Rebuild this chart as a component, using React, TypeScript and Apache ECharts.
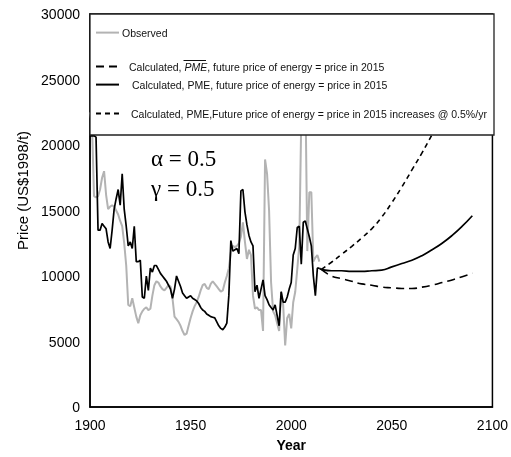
import React, { useEffect, useRef } from 'react';
import * as echarts from 'echarts';

const HIST_START = 1900;

// Observed price, 1900..2014
const observed = [
  22500, 21500, 16100, 16000, 16100, 16600, 17500, 18000, 16200, 15100,
  15300, 15400, 15300, 15000, 14700, 14200, 13800, 12500, 10800, 7800,
  7700, 8300, 7600, 6900, 6400, 7000, 7300, 7500, 7600, 7400,
  7500, 8500, 9300, 9600, 9500, 9200, 9000, 8900, 9100, 9300,
  9200, 8300, 6900, 6700, 6500, 6200, 5800, 5500, 5600, 6200,
  6800, 7300, 7700, 8000, 8400, 8900, 9300, 9400, 9100, 9000,
  9400, 9600, 9400, 9200, 9000, 8800, 8900, 9500, 10000, 10600,
  11800, 12300, 12200, 12300, 12500, 13000, 14100, 12600, 11300, 12000,
  11600, 8500, 7500, 7600, 7400, 7400, 5800, 18900, 17800, 15000,
  9500, 7300, 7000, 6400, 5800, 8800, 7800, 4700, 6800, 7100,
  6000, 8000, 8800, 10500, 12300, 22000, 26000, 25000, 11900, 16400,
  16400, 11100, 11400, 11600, 11100,
];

// Calculated PME, 1900..2014
const pmeHist = [
  20700, 20700, 20700, 20600, 13500, 13500, 14000, 13800, 13600, 12600,
  12100, 13500, 15100, 15900, 16600, 15400, 17800, 15100, 13800, 12300,
  12600, 12100, 13800, 11100, 11100, 11200, 8400, 8300, 10000, 8900,
  10600, 10300, 10800, 10800, 10500, 10200, 10000, 9800, 9600, 9300,
  9000, 8300, 9000, 10000, 9600, 9200, 8700, 8500, 8300, 8400,
  8500, 8300, 8200, 8100, 7900, 7600, 7400, 7300, 7100, 7000,
  6900, 6850, 6800, 6500, 6200, 6000, 5900, 6100, 6400, 8500,
  12700, 11900, 12000, 12100, 11700, 16500, 16600, 14900, 13900, 13100,
  12600, 12300, 8800, 9300, 8300, 9000, 9700, 8500, 8200, 7800,
  7600, 7400, 7800, 7000, 6200, 8800, 8000, 8000, 8400, 9000,
  9500, 11600, 12100, 13700, 13800, 10900, 14100, 14200, 13600, 13000,
  12300, 10000, 8500, 10600, 10600,
];

const futureYears = [2015, 2020, 2025, 2030, 2035, 2040, 2045, 2050, 2055, 2060, 2065, 2070, 2075, 2080, 2085, 2090];
const pmeFuture = [10500, 10400, 10400, 10350, 10350, 10400, 10450, 10700, 10950, 11200, 11550, 12000, 12500, 13100, 13800, 14600];
const pmeBarFuture = [10500, 10000, 9800, 9600, 9400, 9300, 9150, 9100, 9050, 9050, 9150, 9300, 9500, 9700, 9950, 10200];
const pme05Future = [10500, 11050, 11650, 12250, 12900, 13600, 14500, 15600, 16800, 18100, 19400, 20800, 22200, 23700, 25200, 26800];

const FONT = "'Liberation Sans', Arial, sans-serif";
const LEG_SIZE = 10.5;

export default function App() {
  const ref = useRef<HTMLDivElement>(null);
  useEffect(() => {
    const chart = echarts.init(ref.current!, null, { renderer: 'svg' });
    const hist = (arr: number[]) => arr.map((v, i) => [HIST_START + i, v]);
    const fut = (arr: number[]) => arr.map((v, i) => [futureYears[i], v]);
    const lastHist = [HIST_START + pmeHist.length - 1, pmeHist[pmeHist.length - 1]];
    const legendText = { fontFamily: FONT, fontSize: LEG_SIZE, color: '#111' };
    const legendBase = {
      orient: 'horizontal',
      left: 95,
      padding: 0,
      itemWidth: 23,
      itemHeight: 14,
      selectedMode: false,
      itemStyle: { opacity: 0 },
      z: 10,
    };
    const noSym = { color: 'rgba(0,0,0,0)', borderWidth: 0 };
    chart.setOption({
      animation: false,
      grid: {
        left: 90, right: 17, top: 14, bottom: 48,
        show: true, borderColor: '#000', borderWidth: 1.5,
      },
      xAxis: {
        type: 'value', min: 1900, max: 2100, interval: 50,
        name: 'Year', nameLocation: 'middle', nameGap: 31,
        nameTextStyle: { fontFamily: FONT, fontSize: 14, fontWeight: 'bold', color: '#000' },
        axisLine: { show: true, lineStyle: { color: '#000', width: 1.5 } },
        axisTick: { show: false },
        splitLine: { show: false },
        axisLabel: { fontFamily: FONT, fontSize: 14, color: '#000', margin: 11, formatter: (v: number) => String(v) },
      },
      yAxis: {
        type: 'value', min: 0, max: 30000, interval: 5000,
        name: 'Price (US$1998/t)', nameLocation: 'middle', nameGap: 58,
        nameTextStyle: { fontFamily: FONT, fontSize: 15, color: '#000', padding: [0, 0, 0, 40] },
        axisLine: { show: true, lineStyle: { color: '#000', width: 1.5 } },
        axisTick: { show: false },
        splitLine: { show: false },
        axisLabel: { fontFamily: FONT, fontSize: 14, color: '#000', margin: 10, formatter: (v: number) => String(v) },
      },
      legend: [
        { ...legendBase, top: 27, data: ['Observed'], textStyle: { ...legendText, padding: [0, 0, 0, -2] } },
        {
          ...legendBase, top: 61, data: ['PMEbar'],
          formatter: () => 'Calculated, {i|PME}, future price of energy = price in 2015',
          textStyle: { ...legendText, padding: [0, 0, 0, 5], rich: { i: { fontFamily: FONT, fontSize: LEG_SIZE, fontStyle: 'italic', color: '#111' } } },
        },
        {
          ...legendBase, top: 79, data: ['PME'],
          formatter: () => 'Calculated, PME, future price of energy = price in 2015',
          textStyle: { ...legendText, padding: [0, 0, 0, 8] },
        },
        {
          ...legendBase, top: 108, data: ['PME05'],
          formatter: () => 'Calculated, PME,Future price of energy = price in 2015 increases @ 0.5%/yr',
          textStyle: { ...legendText, padding: [0, 0, 0, 7] },
        },
      ],
      graphic: {
        elements: [
          {
            type: 'rect', z: 5, zlevel: 0,
            shape: { x: 90, y: 14, width: 404, height: 121 },
            style: { fill: '#fff', stroke: '#222', lineWidth: 1.3 },
          },
          {
            type: 'line', z: 20,
            shape: { x1: 183.5, y1: 60.5, x2: 206, y2: 60.5 },
            style: { stroke: '#111', lineWidth: 1 },
          },
          {
            type: 'text', z: 20, x: 151, y: 158,
            style: { text: 'α = 0.5', fontFamily: "'Liberation Serif', 'Times New Roman', serif", fontSize: 23, fill: '#000', verticalAlign: 'middle' },
          },
          {
            type: 'text', z: 20, x: 151, y: 188,
            style: { text: 'γ = 0.5', fontFamily: "'Liberation Serif', 'Times New Roman', serif", fontSize: 23, fill: '#000', verticalAlign: 'middle' },
          },
        ],
      },
      series: [
        {
          name: 'Observed', type: 'line', data: hist(observed), symbol: 'none', z: 2,
          lineStyle: { color: '#b3b3b3', width: 2 }, itemStyle: noSym,
        },
        {
          name: 'PMEbar', type: 'line', data: fut(pmeBarFuture), symbol: 'none', smooth: true, z: 3,
          lineStyle: { color: '#000', width: 1.6, type: [8, 5] }, itemStyle: noSym,
        },
        {
          name: 'PME', type: 'line', data: hist(pmeHist), symbol: 'none', z: 3,
          lineStyle: { color: '#000', width: 1.7 }, itemStyle: noSym,
        },
        {
          name: 'PME', type: 'line', data: [lastHist, ...fut(pmeFuture)], symbol: 'none', smooth: true, z: 3,
          lineStyle: { color: '#000', width: 1.7 }, itemStyle: noSym,
        },
        {
          name: 'PME05', type: 'line', data: fut(pme05Future), symbol: 'none', smooth: true, z: 3,
          lineStyle: { color: '#000', width: 1.6, type: [5, 4] }, itemStyle: noSym,
        },
      ],
    });
    return () => chart.dispose();
  }, []);
  return <div ref={ref} style={{ position: 'fixed', left: 0, top: 0, width: 511, height: 457 }} />;
}
